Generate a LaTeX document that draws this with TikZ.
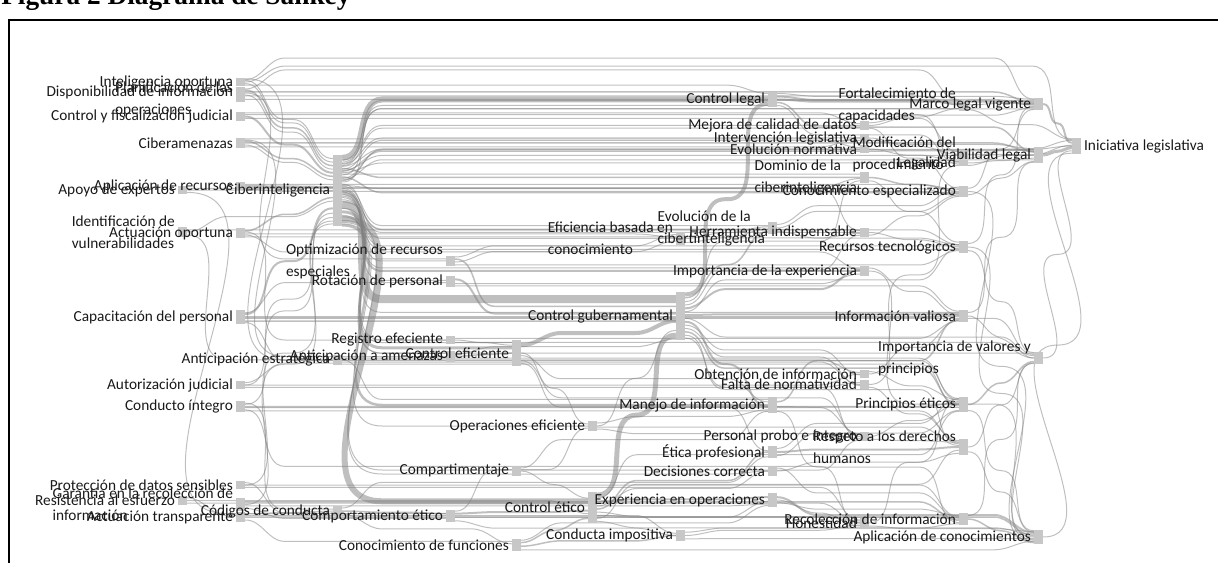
\documentclass[tikz,border=0pt]{standalone}
\usepackage{fontspec}
\setmainfont{Carlito}
\newfontfamily\titlefont{Liberation Serif}
\usetikzlibrary{calc, positioning, backgrounds}

\tikzset{
  skbar/.style={fill=black!22, minimum width=7pt, inner sep=0pt, outer sep=0pt},
  lbl/.style={font=\fontsize{11.5}{16.5}\selectfont, text=black!90, align=left, inner sep=1pt},
  lk/.style={draw=black!50, draw opacity=.5, line cap=butt}
}

% bar + its text: [side]{name}{x}{top}{bottom}{text}
\newcommand\sknode[6][left]{%
  \node[skbar, minimum height={(#5-#4)*0.75pt}] (#2) at ({#3+4.5},{(#4+#5)/2}) {};
  \node[lbl, #1=1pt of #2] (#2-l) {#6};}

% flow: {from}{pos}{to}{pos}{width px}{track: 0 = from level, 1 = to level}
\newcommand\sklink[6]{%
  \path ($(#1.north east)!#2!(#1.south east)$) coordinate (p)
        ($(#3.north west)!#4!(#3.south west)$) coordinate (q)
        ($(p)!#6!(q)$) coordinate (m);
  \draw[lk, line width=#5*0.75pt] let \p1=(p), \p2=(q), \p3=(m),
        \n1={min(30pt,(\x2-\x1)/2)} in
        (p) to[out=0,in=180] (\x1+\n1,\y3) -- (\x2-\n1,\y3) to[out=0,in=180] (q);}

\begin{document}
\begin{tikzpicture}[x=0.75pt, y=-0.75pt]
  \useasboundingbox (0,0) rectangle (1218,563);

  \node[anchor=base west, inner sep=0pt, font=\titlefont\bfseries\fontsize{20.5}{22}\selectfont]
    (title) at (1,4.5) {Figura 2 Diagrama de Sankey};
  \draw[line width=1.5pt] (9,580) -- (9,20) -- (1230,20);

  % columns
  \foreach \nm/\ya/\yb/\tx in {apoyo/186/194/Apoyo de expertos,
      ident/227/237/Identificación de\\vulnerabilidades,
      resist/496/505/Resistencia al esfuerzo}
    {\sknode{\nm}{178}{\ya}{\yb}{\tx}}
  \foreach \nm/\ya/\yb/\tx in {intop/78/86/Inteligencia oportuna,
      dispo/87/97/Disponibilidad de información,
      planif/97/102/Planificación de las\\operaciones,
      ctrlfisc/112/121/Control y fiscalización judicial,
      ciberam/138/148/Ciberamenazas,
      aplrec/182/190/Aplicación de recursos,
      actop/228/238/Actuación oportuna,
      capac/310/324/Capacitación del personal,
      autjud/381/389/Autorización judicial,
      conduct/401/412/Conducto íntegro,
      protec/481/489/Protección de datos sensibles,
      garant/498/511/Garantía en la recolección de\\información,
      actrans/512/522/Actuación transparente}
    {\sknode{\nm}{236}{\ya}{\yb}{\tx}}
  \foreach \nm/\ya/\yb/\tx in {ciberint/155/226/Ciberinteligencia,
      anticest/355/365/Anticipación estratégica,
      codcond/506/516/Códigos de conducta}
    {\sknode{\nm}{333}{\ya}{\yb}{\tx}}
  \foreach \nm/\ya/\yb/\tx in {optim/256/266/Optimización de recursos\\especiales,
      rotac/276/287/Rotación de personal,
      regef/336/344/Registro efeciente,
      antamen/351/362/Anticipación a amenazas,
      comport/510/522/Comportamiento ético}
    {\sknode{\nm}{446}{\ya}{\yb}{\tx}}
  \foreach \nm/\ya/\yb/\tx in {ctrlef/340/366/Control eficiente,
      compart/466/476/Compartimentaje,
      conofun/539/551/Conocimiento de funciones}
    {\sknode{\nm}{512}{\ya}{\yb}{\tx}}
  \foreach \nm/\ya/\yb/\tx in {operef/421/431/Operaciones eficiente,
      ctrletico/492/523/Control ético}
    {\sknode{\nm}{588}{\ya}{\yb}{\tx}}
  \foreach \nm/\ya/\yb/\tx in {eficbas/232/245/Eficiencia basada en\\conocimiento,
      ctrlgub/292/340/Control gubernamental,
      conducimp/530/541/Conducta impositiva}
    {\sknode{\nm}{676}{\ya}{\yb}{\tx}}
  \foreach \nm/\ya/\yb/\tx in {ctrllegal/92/107/Control legal,
      evolciber/222/234/Evolución de la\\cibertinteligencia,
      manejo/397/413/Manejo de información,
      eticaprof/446/458/Ética profesional,
      decis/466/476/Decisiones correcta,
      expop/493/507/Experiencia en operaciones}
    {\sknode{\nm}{768}{\ya}{\yb}{\tx}}
  \foreach \nm/\ya/\yb/\tx in {mejora/121/130/Mejora de calidad de datos,
      interv/134/142/Intervención legislativa,
      evolnorm/145/153/Evolución normativa,
      dominio/172/183/Dominio de la\\ciberinteligencia,
      herram/228/237/Herramienta indispensable,
      importexp/266/276/Importancia de la experiencia,
      obten/370/378/Obtención de información,
      falta/380/389/Falta de normatividad,
      probo/432/441/Personal probo e íntegro,
      honest/518/528/Honestidad}
    {\sknode{\nm}{860}{\ya}{\yb}{\tx}}
  \foreach \nm/\ya/\yb/\tx in {fortal/99/111/Fortalecimiento de\\capacidades,
      modif/150/159/Modificación del\\procedimiento,
      legal/160/166/Legalidad,
      conoesp/186/197/Conocimiento especializado,
      rectec/241/253/Recursos tecnológicos,
      infoval/310/322/Información valiosa,
      princ/397/412/Principios éticos,
      respeto/439/455/Respeto a los derechos\\humanos,
      recol/513/525/Recolección de información}
    {\sknode{\nm}{959}{\ya}{\yb}{\tx}}
  \foreach \nm/\ya/\yb/\tx in {marco/98/110/Marco legal vigente,
      viab/147/163/Viabilidad legal,
      impval/352/364/Importancia de valores y\\principios,
      aplcon/530/544/Aplicación de conocimientos}
    {\sknode{\nm}{1034}{\ya}{\yb}{\tx}}
  \sknode[right]{inicleg}{1072}{138}{154}{Iniciativa legislativa}

  % flows
  \begin{pgfonlayer}{background}
  \foreach \src/\fs/\tgt/\ft/\lw/\kk in {
      intop/.3/ciberint/.05/1/.5, intop/.7/ciberint/.1/1/.5,
      dispo/.3/ciberint/.15/1.5/.5, dispo/.8/ciberint/.2/1/.5,
      ctrlfisc/.5/ciberint/.25/2/.5, ciberam/.3/ciberint/.3/1.5/.5,
      ciberam/.7/ciberint/.35/1/.5, aplrec/.5/ciberint/.45/2/.5,
      apoyo/.5/ciberint/.5/1/.5, actop/.3/ciberint/.6/1.5/.5,
      ident/.5/ciberint/.65/1/.5, capac/.3/ciberint/.75/2/.5,
      autjud/.5/ciberint/.82/1/.5, conduct/.3/ciberint/.88/1/.5,
      protec/.5/ciberint/.93/1/.5, garant/.5/ciberint/.97/1/.5,
      intop/.2/marco/.1/1/-1.1, intop/.5/inicleg/.05/1/-.28,
      dispo/.2/fortal/.1/1/-1.7, dispo/.5/marco/.4/1.5/0,
      planif/.5/marco/.6/1/0, dispo/.9/fortal/.5/1/0,
      intop/.9/ctrllegal/.1/1/0, ctrlfisc/.3/legal/.3/1/0,
      ctrlfisc/.7/modif/.2/1/0, ciberam/.5/viab/.3/1.5/0,
      ciberam/.9/interv/.5/1/0, aplrec/.3/conoesp/.3/1/0,
      actop/.6/eficbas/.4/1/0, actop/.9/evolciber/.6/1/0,
      capac/.5/infoval/.5/2/0, capac/.8/ctrlgub/.6/1.5/0,
      autjud/.5/obten/.5/1/0, conduct/.5/princ/.4/1.5/0,
      conduct/.8/honest/.5/1/.5, protec/.5/recol/.3/1/0,
      garant/.3/recol/.6/1.5/0, actrans/.5/aplcon/.4/1.5/0,
      resist/.5/ctrletico/.7/1/0, resist/.8/honest/.5/1/0,
      ctrlfisc/.1/mejora/.3/1/0, ciberam/.1/evolnorm/.3/1/0,
      aplrec/.7/dominio/.6/1/0, aplrec/.9/conoesp/.7/1/.5,
      apoyo/.3/herram/.3/1/0, ident/.3/rectec/.3/1/0,
      actop/.7/importexp/.3/1/.5, capac/.6/impval/.2/1/0,
      capac/.9/princ/.1/1/.5, autjud/.8/falta/.3/1/0,
      conduct/.6/probo/.2/1/0, conduct/.9/respeto/.2/1/0,
      protec/.8/honest/.2/1/0, garant/.6/expop/.8/1/0,
      actrans/.8/conofun/.2/1/1, resist/.2/conducimp/.3/1/.5,
      dispo/.6/optim/.3/1/1, capac/.2/rotac/.6/1/1,
      actop/.4/regef/.5/1/1, intop/.1/anticest/.5/1/1,
      ciberam/.2/antamen/.5/1/1, autjud/.2/anticest/.8/1/1,
      conduct/.2/codcond/.3/1/1, protec/.2/codcond/.7/1/1,
      apoyo/.8/comport/.3/1/1, ident/.8/antamen/.8/1/1,
      garant/.8/comport/.7/1/1, actrans/.2/codcond/.5/1/.5,
      ciberint/.04/ctrllegal/.5/6/1, ciberint/.07/ctrllegal/.9/1/1,
      ciberint/.1/mejora/.5/1/1, ciberint/.12/marco/.2/1/1,
      ciberint/.13/interv/.5/1/1, ciberint/.15/mejora/.8/1/1,
      ciberint/.16/evolnorm/.5/1/1, ciberint/.19/dominio/.5/1.5/1,
      ciberint/.2/interv/.8/1/1, ciberint/.22/modif/.6/1/1,
      ciberint/.23/evolnorm/.8/1/1, ciberint/.25/legal/.5/1/1,
      ciberint/.27/dominio/.2/1/1, ciberint/.28/fortal/.8/1/1,
      ciberint/.31/conoesp/.6/1.5/1, ciberint/.33/viab/.2/1/1,
      ciberint/.35/viab/.8/1/1, ciberint/.36/inicleg/.5/1/.9,
      ciberint/.38/marco/.9/1/1, ciberint/.41/herram/.5/1/1,
      ciberint/.43/conoesp/.9/1/.3, ciberint/.44/evolciber/.3/1/1,
      ciberint/.47/eficbas/.5/1/1, ciberint/.49/evolciber/.6/1/1,
      ciberint/.5/rectec/.4/1/1, ciberint/.52/herram/.2/1/1,
      ciberint/.53/importexp/.5/2/1, ciberint/.55/rectec/.7/1/1,
      ciberint/.56/optim/.5/1/1, ciberint/.58/importexp/.2/1/1,
      ciberint/.6/rotac/.4/1/1, ciberint/.63/infoval/.2/1/1,
      ciberint/.66/impval/.1/1/1,
      ciberint/.7/ctrlgub/.15/8/1, ciberint/.75/ctrlef/.1/1/1,
      ciberint/.8/ctrlef/.3/3/1, ciberint/.85/regef/.5/1/1,
      ciberint/.87/antamen/.2/1/1, ciberint/.9/ctrletico/.3/6/1,
      ciberint/.92/compart/.8/1/1, ciberint/.95/compart/.4/1/1,
      ciberint/.97/operef/.5/1/1, ciberint/.99/manejo/.5/2.5/1,
      optim/.1/eficbas/.2/1/.5,
      optim/.3/ctrlgub/.3/1.5/1, optim/.6/eficbas/.7/1/.5,
      optim/.9/rectec/.8/1/0, rotac/.3/ctrlgub/.45/2/1,
      rotac/.7/importexp/.8/1/0, rotac/.9/infoval/.1/1/0,
      regef/.3/infoval/.9/1/0, regef/.8/impval/.5/1/0,
      regef/.5/ctrlef/.2/1/.5, antamen/.3/ctrlgub/.98/1/.5,
      antamen/.5/ctrlef/.5/1.5/.5, anticest/.3/ctrlef/.7/1/.5,
      anticest/.5/manejo/.15/1/1, anticest/.9/princ/.6/1/0,
      anticest/.7/falta/.5/1/0, antamen/.8/obten/.3/1/0,
      comport/.1/operef/.7/1/.5,
      comport/.3/ctrletico/.6/2/.5, comport/.6/expop/.6/1/0,
      comport/.9/conducimp/.5/1/.5, codcond/.5/comport/.3/1.5/.5,
      codcond/.8/conofun/.4/1/.5, codcond/.2/eticaprof/.9/1/.5,
      ctrlef/.2/ctrlgub/.6/4/.5, ctrlef/.5/operef/.3/1/.5,
      ctrlef/.6/manejo/.3/1/.5, ctrlef/.7/princ/.2/1/0,
      ctrlef/.8/probo/.3/1/.5, ctrlef/.9/eticaprof/.4/1/.5,
      compart/.5/ctrletico/.2/1/.5, compart/.8/decis/.5/1/0,
      compart/.2/manejo/.9/1/.5, compart/.4/probo/.9/1/0,
      conofun/.3/ctrletico/.85/1.5/.5, conofun/.6/conducimp/.5/1.5/.5,
      conofun/.9/aplcon/.8/1/0, conofun/.1/expop/.9/1/.5,
      operef/.5/ctrlgub/.8/1/.5, operef/.8/probo/.7/1/.5,
      operef/.2/manejo/.8/1/.5, operef/.6/respeto/.4/1/0,
      ctrletico/.1/ctrlgub/.9/5/.5, ctrletico/.3/expop/.3/2/.5,
      ctrletico/.45/decis/.5/1/.5, ctrletico/.55/eticaprof/.5/1.5/.5,
      ctrletico/.65/honest/.3/1/.5, ctrletico/.75/recol/.5/1/.5,
      ctrletico/.85/respeto/.7/1/.5, ctrletico/.95/aplcon/.3/1/.5,
      ctrletico/.2/princ/.95/1/.5,
      eficbas/.5/evolciber/.4/1/.5, eficbas/.8/herram/.6/1/.5,
      ctrlgub/.05/ctrllegal/.8/4/.5, ctrlgub/.12/evolciber/.8/1.5/.5,
      ctrlgub/.2/dominio/.8/1/.5, ctrlgub/.27/herram/.8/1/.5,
      ctrlgub/.34/importexp/.4/2/.5, ctrlgub/.41/rectec/.6/1/.5,
      ctrlgub/.48/infoval/.3/2/.5, ctrlgub/.55/impval/.3/1/.5,
      ctrlgub/.62/manejo/.6/2/.5, ctrlgub/.69/obten/.6/1/.5,
      ctrlgub/.76/falta/.6/1/.5, ctrlgub/.83/princ/.5/1.5/.5,
      ctrlgub/.9/respeto/.3/1/.5, ctrlgub/.96/probo/.5/1/.5,
      conducimp/.5/honest/.7/1/.5, conducimp/.8/aplcon/.6/1/.5,
      conducimp/.2/recol/.9/1/.5,
      ctrllegal/.1/marco/.1/1/.5,
      ctrllegal/.3/fortal/.4/2/.5, ctrllegal/.5/marco/.5/2/.5,
      ctrllegal/.7/viab/.3/1.5/.5, ctrllegal/.9/legal/.7/1/.5,
      evolciber/.5/conoesp/.8/1/.5, evolciber/.8/rectec/.3/1/.5,
      evolciber/.2/conoesp/.1/1/.5,
      manejo/.3/infoval/.8/1.5/.5, manejo/.6/princ/.7/1/.5,
      manejo/.9/recol/.8/1/.5, eticaprof/.5/respeto/.5/2/.5,
      eticaprof/.8/princ/.9/1/.5, eticaprof/.2/princ/.1/1/.5,
      decis/.5/respeto/.9/1/.5, decis/.2/recol/.4/1/.5,
      expop/.3/aplcon/.2/2/.5, expop/.7/recol/.2/1/.5,
      expop/.5/honest/.8/1/.5,
      mejora/.5/fortal/.8/1/.5, mejora/.8/conoesp/.2/1/.5,
      mejora/.2/marco/.8/1/.5, interv/.8/viab/.1/1/.5,
      interv/.5/modif/.5/1/.5, evolnorm/.5/legal/.2/1/.5,
      evolnorm/.8/viab/.2/1/.5,
      dominio/.5/conoesp/.5/1.5/.5, dominio/.8/rectec/.1/1/.5,
      herram/.5/rectec/.5/1/.5, herram/.8/conoesp/.95/1/.5,
      importexp/.5/aplcon/.5/1/.5, importexp/.2/infoval/.4/1/.5,
      obten/.5/infoval/.9/1/.5, obten/.2/princ/.2/1/.5,
      falta/.5/legal/.9/1/.5, falta/.8/respeto/.1/1/.5,
      probo/.5/princ/.5/1/.5, probo/.8/respeto/.2/1/.5,
      honest/.5/princ/.3/1/.5, honest/.8/aplcon/.1/1/.5,
      fortal/.5/marco/.3/1/.5, modif/.5/viab/.5/1.5/.5,
      legal/.5/viab/.7/1/.5, conoesp/.5/aplcon/.8/1/.5,
      rectec/.5/aplcon/.7/1/.5, infoval/.5/impval/.5/1/.5,
      princ/.5/impval/.8/1.5/.5, respeto/.5/impval/.9/1/.5,
      recol/.5/aplcon/.9/1.5/.5, conoesp/.8/viab/.9/1/.5,
      rectec/.2/marco/.7/1/.5, conoesp/.2/marco/.95/1/.5,
      infoval/.2/viab/.95/1/.5, recol/.2/impval/.95/1/.5,
      respeto/.8/aplcon/.15/1/.5, princ/.9/aplcon/.05/1/.5,
      rectec/.8/impval/.05/1/.5,
      marco/.5/inicleg/.3/2/.5, viab/.5/inicleg/.6/3/.5,
      impval/.5/inicleg/.8/1/.5, aplcon/.5/inicleg/.95/1/.5,
      legal/.9/inicleg/.45/1/.5, modif/.9/inicleg/.15/1/.5,
      fortal/.9/inicleg/.1/1/.5}
    {\sklink{\src}{\fs}{\tgt}{\ft}{\lw}{\kk}}
  \end{pgfonlayer}
\end{tikzpicture}
\end{document}
